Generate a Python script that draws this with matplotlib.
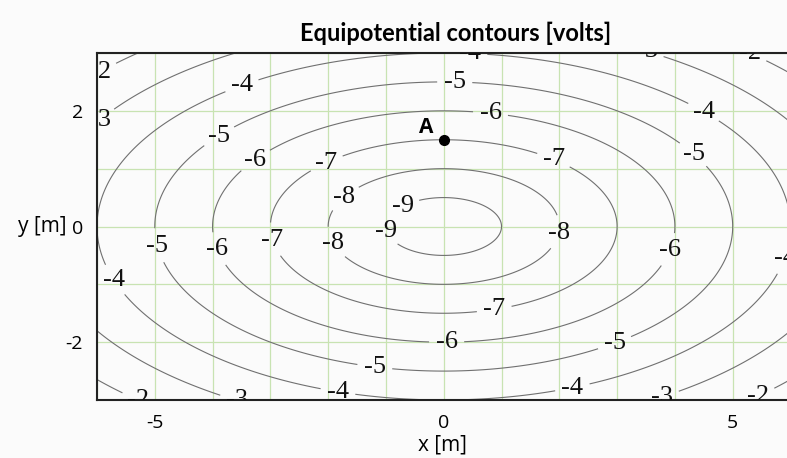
import numpy as np
import matplotlib
matplotlib.use('Agg')
import matplotlib.pyplot as plt

plt.rcParams['axes.unicode_minus'] = False

# potential model: V = sqrt(x^2 + (k*y)^2) + v0
v0 = -10.0
k_y = 2.0
levels = [-9, -8, -7, -6, -5, -4, -3, -2]

# label positions (data coords)
label_pos = [(-5.95, 2.70), (-5.95, 1.85), (-3.48, 2.40), (-3.88, 1.55), (-3.24, 1.12),
             (-2.02, 1.08), (-1.70, 0.48), (-0.71, 0.35), (-0.95, -0.06), (-1.89, -0.28),
             (-2.92, -0.22), (-3.93, -0.40), (-4.91, -0.32), (-5.69, -0.92),
             (0.45, 2.98), (0.19, 2.48), (0.81, 1.96), (1.92, 1.20), (3.50, 2.98),
             (5.30, 2.98), (4.52, 2.02), (4.38, 1.32), (2.06, -0.12), (4.01, -0.45),
             (5.93, -0.55), (0.88, -1.47), (0.05, -2.02), (2.96, -2.02), (-1.19, -2.40),
             (2.23, -2.80), (-1.83, -2.85), (3.79, -2.98), (5.47, -2.98),
             (-5.26, -2.95), (-3.56, -2.95)]

point_A = (0.0, 1.5)

x = np.linspace(-6.5, 6.5, 600)
y = np.linspace(-3.3, 3.3, 400)
X, Y = np.meshgrid(x, y)
V = np.sqrt(X**2 + (k_y * Y)**2) + v0

fig = plt.figure(figsize=(7.87, 4.58), dpi=100)
fig.patch.set_facecolor('#fbfbfb')
ax = fig.add_axes([97/787, 58/458, 690/787, 347/458])
ax.set_facecolor('#fbfbfb')

for gx in range(-6, 7):
    ax.axvline(gx, color='#c8e3b2', lw=0.9, zorder=0)
for gy in range(-3, 4):
    ax.axhline(gy, color='#c8e3b2', lw=0.9, zorder=0)

cs = ax.contour(X, Y, V, levels=levels, colors='#707070', linewidths=0.8,
                linestyles='solid', zorder=2)
cl = ax.clabel(cs, fmt='%d', fontsize=19, inline=True, inline_spacing=3,
               manual=label_pos)
for t in cl:
    t.set_rotation(0)
    t.set_family('Liberation Serif')
    t.set_color('#111111')
    t.set_clip_on(True)
    t.set_clip_box(ax.bbox)

ax.plot(*point_A, 'o', color='black', ms=7, zorder=5)
ax.text(point_A[0] - 0.3, point_A[1] + 0.22, 'A', fontsize=15, fontweight='bold',
        family='Open Sans', ha='center', va='center', zorder=5)

ax.set_xlim(-6.0, 5.94)
ax.set_ylim(-3, 3)
ax.set_xticks([-5, 0, 5])
ax.set_yticks([-2, 0, 2])
ax.tick_params(length=0, labelsize=14, pad=10, labelfontfamily='Open Sans')

for s in ['top', 'left', 'bottom']:
    ax.spines[s].set_linewidth(1.5)
    ax.spines[s].set_color('#222222')
ax.spines['right'].set_visible(False)

ax.set_xlabel('x [m]', fontsize=15, family='Open Sans', labelpad=2)
ax.set_ylabel('y [m]', fontsize=15, family='Open Sans', rotation=0, va='center')
ax.yaxis.set_label_coords(-0.079, 0.5)

fig.text(456/787, 1 - 33/458, 'Equipotential contours [volts]', fontsize=17,
         fontweight='bold', family='Lato', ha='center', va='center')

fig.savefig('out.png', dpi=100, facecolor=fig.get_facecolor())
